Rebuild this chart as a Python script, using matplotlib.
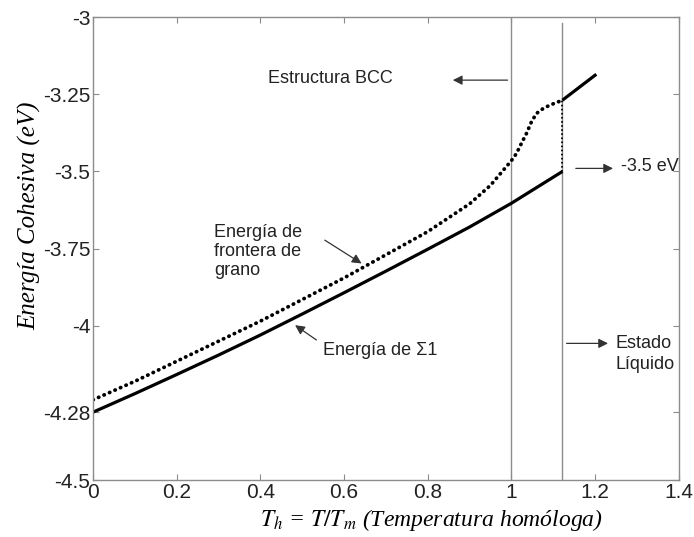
import numpy as np
import matplotlib
matplotlib.use("Agg")
import matplotlib.pyplot as plt

plt.rcParams['font.family'] = ['Liberation Sans', 'DejaVu Sans']
plt.rcParams['mathtext.fontset'] = 'stix'

# Energia de Sigma1 (solid line, solid state)
th_s1 = [0.0, 0.1, 0.2, 0.3, 0.4, 0.5, 0.6, 0.7, 0.8, 0.9, 1.0, 1.122]
e_s1 = [-4.28, -4.22, -4.158, -4.095, -4.03, -3.962, -3.893, -3.823, -3.752,
        -3.68, -3.603, -3.5]

# Energia de frontera de grano (dotted line)
th_gb = [0.0, 0.1, 0.2, 0.3, 0.4, 0.5, 0.6, 0.7, 0.8, 0.9, 0.95, 1.0, 1.012,
         1.024, 1.036, 1.048, 1.06, 1.076, 1.092, 1.122]
e_gb = [-4.24, -4.18, -4.115, -4.05, -3.985, -3.915, -3.845, -3.77, -3.695,
        -3.605, -3.545, -3.465, -3.442, -3.409, -3.377, -3.339, -3.312, -3.296,
        -3.285, -3.269]

# liquid branch
th_liq = [1.122, 1.203]
e_liq = [-3.269, -3.185]

# vertical markers (T_h = 1 and melting point)
v_lines = [1.0, 1.122]

xticks = [0, 0.2, 0.4, 0.6, 0.8, 1.0, 1.2, 1.4]
xtick_labels = ['0', '0.2', '0.4', '0.6', '0.8', '1', '1.2', '1.4']
yticks = [-4.5, -4.28, -4.0, -3.75, -3.5, -3.25, -3.0]
ytick_labels = ['-4.5', '-4.28', '-4', '-3.75', '-3.5', '-3.25', '-3']

fig = plt.figure(figsize=(6.94, 5.37), dpi=100)
ax = fig.add_axes([0.134, 0.106, 0.844, 0.862])

gray = '#8c8c8c'
ax.plot([v_lines[0], v_lines[0]], [-4.5, -3.0], color=gray, lw=1.0)
ax.plot([v_lines[1], v_lines[1]], [-4.5, -3.02], color=gray, lw=1.0)

ax.plot(th_s1, e_s1, color='black', lw=2.3, solid_capstyle='butt')
ax.plot(th_gb, e_gb, color='black', lw=2.7, ls=(0, (0.1, 1.5)),
        dash_capstyle='round')
ax.plot(th_liq, e_liq, color='black', lw=2.3, solid_capstyle='butt')
ax.plot([th_s1[-1], th_s1[-1]], [e_s1[-1], e_gb[-1]], color='black', lw=1.4,
        ls=(0, (0.1, 2.0)), dash_capstyle='round')

ax.set_xlim(0, 1.4)
ax.set_ylim(-4.5, -3.0)
ax.set_xticks(xticks)
ax.set_xticklabels(xtick_labels)
ax.set_yticks(yticks)
ax.set_yticklabels(ytick_labels)
ax.tick_params(direction='in', length=4, width=0.8, color=gray,
               top=True, right=True, labelsize=15, labelcolor='#222222', pad=2)
for s in ax.spines.values():
    s.set_color(gray)
    s.set_linewidth(1.0)

ax.set_xlabel(r'$T_h$ = $T/T_m$ (Temperatura homóloga)', family='Liberation Serif',
              style='italic', fontsize=17)
ax.xaxis.set_label_coords(0.577, -0.058)
ax.set_ylabel('Energía Cohesiva (eV)', family='Liberation Serif',
              style='italic', fontsize=18)
ax.yaxis.set_label_coords(-0.089, 0.57)

arrow = dict(arrowstyle='-|>', color='#333333', lw=0.9, mutation_scale=14,
             shrinkA=0, shrinkB=0)
tcol = '#222222'

ax.annotate('', xy=(0.86, -3.204), xytext=(0.991, -3.204), arrowprops=arrow)
ax.text(0.418, -3.198, 'Estructura BCC', fontsize=13, color=tcol,
        va='center', ha='left')

ax.annotate('', xy=(1.243, -3.49), xytext=(1.154, -3.49), arrowprops=arrow)
ax.text(1.263, -3.485, '-3.5 eV', fontsize=13, color=tcol, va='center',
        ha='left')

ax.annotate('', xy=(1.231, -4.057), xytext=(1.132, -4.057), arrowprops=arrow)
ax.text(1.248, -4.057, 'Estado', fontsize=13, color=tcol, va='center',
        ha='left')
ax.text(1.248, -4.124, 'Líquido', fontsize=13, color=tcol, va='center',
        ha='left')

ax.annotate('', xy=(0.642, -3.798), xytext=(0.554, -3.7225), arrowprops=arrow)
ax.text(0.289, -3.76, 'Energía de\nfrontera de\ngrano', fontsize=13,
        color=tcol, va='center', ha='left', linespacing=1.15)

ax.annotate('', xy=(0.483, -3.998), xytext=(0.534, -4.046), arrowprops=arrow)
ax.text(0.549, -4.079, 'Energía de Σ1', fontsize=13, color=tcol,
        va='center', ha='left')

fig.savefig('out.png', dpi=100)
